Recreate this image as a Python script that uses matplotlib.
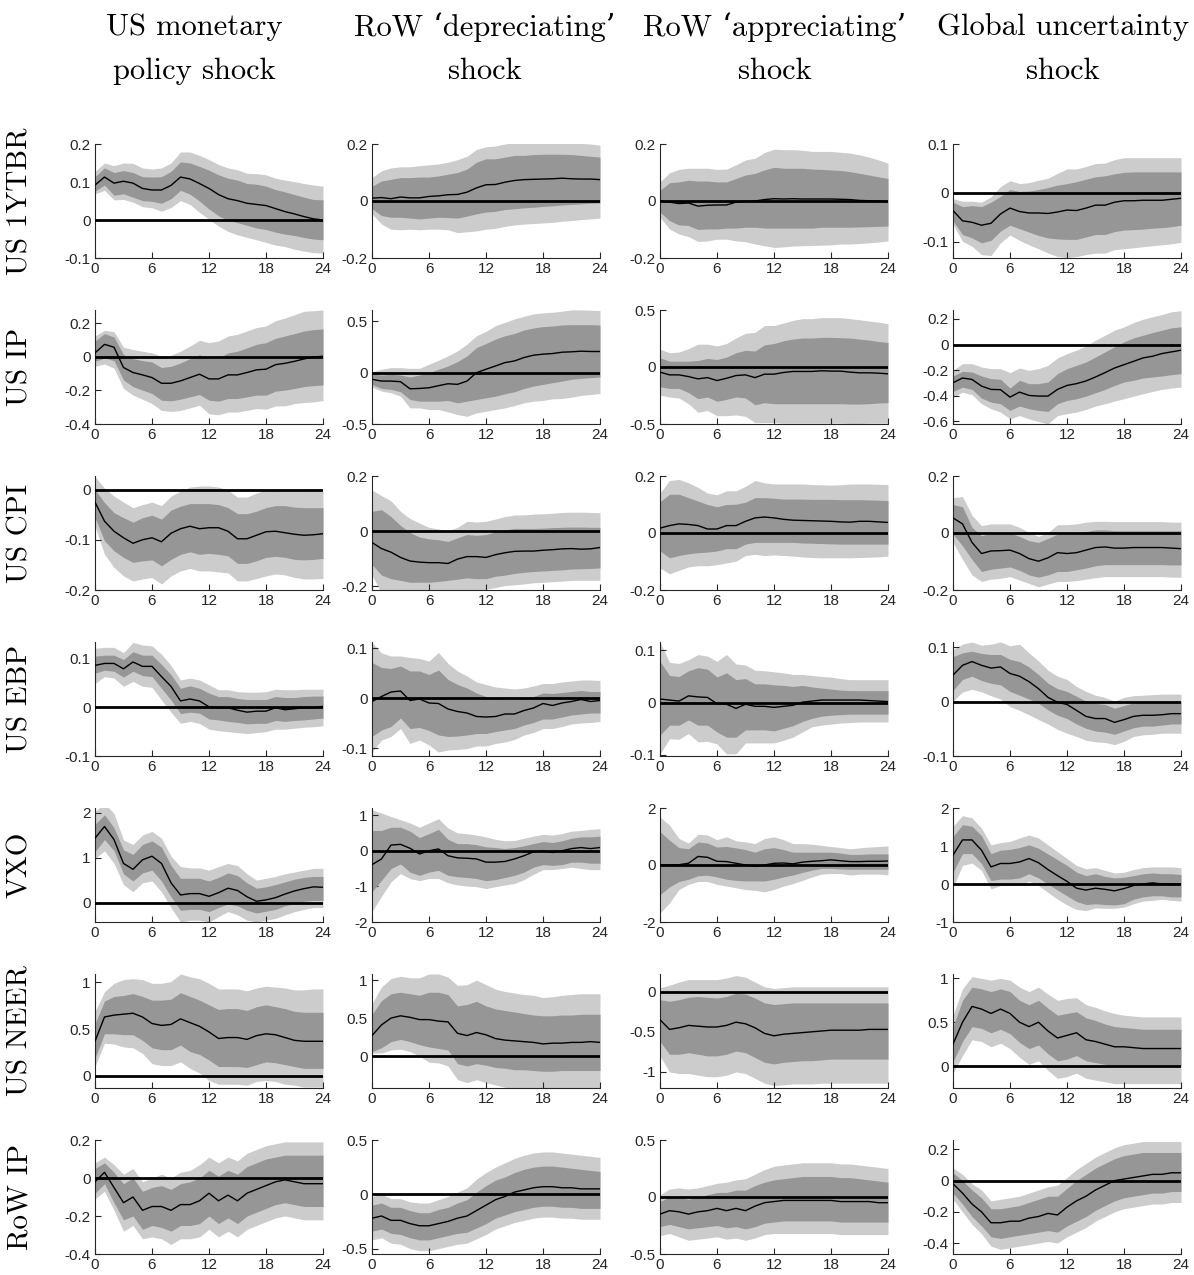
import numpy as np
import matplotlib
matplotlib.use("Agg")
import matplotlib.pyplot as plt
from matplotlib.ticker import FixedLocator, FuncFormatter

horizons = list(range(25))
xticks = [0, 6, 12, 18, 24]

shock_titles = [("US monetary", "policy shock"),
                ("RoW \u2018depreciating\u2019", "shock"),
                ("RoW \u2018appreciating\u2019", "shock"),
                ("Global uncertainty", "shock")]
variable_names = ["US 1YTBR", "US IP", "US CPI", "US EBP", "VXO", "US NEER", "RoW IP"]

# ---------------- US 1YTBR ----------------
ytbr_mp_med = [0.092,0.113,0.097,0.102,0.097,0.083,0.079,0.079,0.091,0.113,0.108,0.096,0.083,0.067,0.056,0.051,0.044,0.041,0.038,0.030,0.022,0.016,0.009,0.003,0.000]
ytbr_mp_hi68 = [0.114,0.137,0.125,0.130,0.125,0.114,0.113,0.114,0.128,0.153,0.150,0.141,0.131,0.119,0.110,0.105,0.096,0.094,0.089,0.080,0.074,0.067,0.060,0.054,0.053]
ytbr_mp_hi90 = [0.128,0.150,0.143,0.150,0.149,0.137,0.134,0.137,0.150,0.179,0.179,0.170,0.159,0.146,0.137,0.132,0.123,0.122,0.119,0.110,0.105,0.101,0.096,0.092,0.089]
ytbr_mp_lo68 = [0.076,0.092,0.065,0.069,0.060,0.051,0.049,0.044,0.056,0.078,0.068,0.050,0.029,0.011,-0.001,-0.007,-0.014,-0.021,-0.025,-0.032,-0.037,-0.041,-0.046,-0.050,-0.052]
ytbr_mp_lo90 = [0.069,0.078,0.053,0.054,0.047,0.035,0.032,0.023,0.033,0.051,0.041,0.020,0.002,-0.016,-0.030,-0.039,-0.046,-0.052,-0.059,-0.066,-0.070,-0.077,-0.082,-0.086,-0.087]

ytbr_dep_med = [0.010,0.012,0.008,0.014,0.011,0.011,0.016,0.018,0.022,0.023,0.031,0.046,0.057,0.058,0.066,0.072,0.075,0.076,0.077,0.078,0.080,0.078,0.077,0.077,0.075]
ytbr_dep_hi68 = [0.052,0.070,0.076,0.082,0.082,0.084,0.084,0.088,0.094,0.100,0.112,0.136,0.148,0.148,0.154,0.160,0.160,0.163,0.164,0.164,0.164,0.163,0.160,0.157,0.154]
ytbr_dep_hi90 = [0.082,0.106,0.116,0.120,0.120,0.124,0.127,0.130,0.136,0.145,0.157,0.181,0.190,0.193,0.200,0.205,0.207,0.208,0.210,0.210,0.210,0.206,0.202,0.200,0.196]
ytbr_dep_lo68 = [-0.027,-0.051,-0.057,-0.057,-0.060,-0.063,-0.060,-0.057,-0.058,-0.060,-0.053,-0.045,-0.039,-0.036,-0.030,-0.027,-0.024,-0.022,-0.019,-0.017,-0.014,-0.012,-0.010,-0.008,-0.007]
ytbr_dep_lo90 = [-0.045,-0.081,-0.099,-0.101,-0.099,-0.101,-0.099,-0.099,-0.101,-0.111,-0.108,-0.105,-0.099,-0.096,-0.089,-0.084,-0.081,-0.079,-0.077,-0.075,-0.071,-0.069,-0.065,-0.063,-0.060]

ytbr_app_med = [0.000,-0.004,-0.009,-0.007,-0.018,-0.015,-0.014,-0.014,-0.004,-0.001,0.000,0.005,0.008,0.007,0.008,0.007,0.007,0.007,0.007,0.006,0.005,0.002,0.001,0.000,-0.002]
ytbr_app_hi68 = [0.038,0.064,0.067,0.073,0.070,0.070,0.067,0.067,0.079,0.091,0.097,0.109,0.118,0.115,0.115,0.115,0.112,0.111,0.109,0.107,0.103,0.097,0.091,0.085,0.079]
ytbr_app_hi90 = [0.067,0.099,0.111,0.115,0.115,0.115,0.111,0.112,0.127,0.144,0.150,0.170,0.182,0.180,0.180,0.178,0.174,0.174,0.174,0.171,0.168,0.162,0.154,0.144,0.133]
ytbr_app_lo68 = [-0.039,-0.069,-0.084,-0.086,-0.100,-0.098,-0.098,-0.095,-0.095,-0.092,-0.092,-0.095,-0.095,-0.095,-0.095,-0.095,-0.095,-0.092,-0.092,-0.092,-0.092,-0.091,-0.090,-0.089,-0.088]
ytbr_app_lo90 = [-0.057,-0.098,-0.116,-0.125,-0.142,-0.140,-0.134,-0.134,-0.140,-0.143,-0.151,-0.157,-0.163,-0.161,-0.158,-0.157,-0.156,-0.155,-0.154,-0.151,-0.151,-0.149,-0.147,-0.144,-0.140]

ytbr_unc_med = [-0.036,-0.057,-0.060,-0.066,-0.062,-0.043,-0.031,-0.038,-0.041,-0.041,-0.042,-0.039,-0.035,-0.036,-0.031,-0.025,-0.025,-0.019,-0.016,-0.016,-0.015,-0.015,-0.015,-0.013,-0.011]
ytbr_unc_hi68 = [-0.019,-0.028,-0.026,-0.028,-0.019,-0.007,0.007,0.003,0.004,0.007,0.011,0.016,0.019,0.023,0.028,0.033,0.035,0.039,0.042,0.043,0.043,0.043,0.043,0.043,0.043]
ytbr_unc_hi90 = [-0.012,-0.017,-0.017,-0.019,-0.008,0.013,0.025,0.019,0.021,0.026,0.030,0.040,0.049,0.049,0.054,0.060,0.061,0.068,0.072,0.072,0.072,0.072,0.072,0.072,0.072]
ytbr_unc_lo68 = [-0.057,-0.085,-0.092,-0.102,-0.097,-0.078,-0.066,-0.073,-0.080,-0.087,-0.092,-0.094,-0.095,-0.095,-0.090,-0.085,-0.085,-0.079,-0.076,-0.075,-0.074,-0.072,-0.071,-0.069,-0.066]
ytbr_unc_lo90 = [-0.064,-0.099,-0.109,-0.126,-0.128,-0.102,-0.086,-0.097,-0.106,-0.114,-0.123,-0.130,-0.132,-0.130,-0.126,-0.123,-0.123,-0.116,-0.114,-0.112,-0.110,-0.108,-0.106,-0.104,-0.101]

# ---------------- US IP ----------------
ip_mp_med = [0.024,0.075,0.058,-0.063,-0.093,-0.107,-0.123,-0.157,-0.157,-0.143,-0.123,-0.103,-0.131,-0.131,-0.107,-0.107,-0.093,-0.077,-0.073,-0.046,-0.038,-0.026,-0.012,0.000,0.004]
ip_mp_hi68 = [0.095,0.139,0.119,0.014,-0.010,-0.022,-0.030,-0.063,-0.056,-0.036,-0.010,0.014,-0.010,-0.006,0.024,0.034,0.054,0.075,0.085,0.111,0.125,0.139,0.155,0.163,0.167]
ip_mp_hi90 = [0.125,0.159,0.151,0.058,0.044,0.034,0.024,0.004,0.010,0.034,0.065,0.099,0.085,0.095,0.125,0.135,0.155,0.175,0.185,0.216,0.232,0.252,0.272,0.276,0.280]
ip_mp_lo68 = [-0.026,-0.006,-0.022,-0.137,-0.177,-0.198,-0.218,-0.258,-0.262,-0.252,-0.238,-0.224,-0.258,-0.264,-0.248,-0.248,-0.238,-0.228,-0.228,-0.204,-0.198,-0.188,-0.177,-0.171,-0.167]
ip_mp_lo90 = [-0.056,-0.042,-0.067,-0.188,-0.228,-0.252,-0.278,-0.319,-0.325,-0.319,-0.304,-0.288,-0.339,-0.345,-0.329,-0.329,-0.319,-0.308,-0.312,-0.292,-0.292,-0.278,-0.272,-0.268,-0.260]

ip_dep_med = [-0.065,-0.082,-0.082,-0.088,-0.157,-0.154,-0.147,-0.127,-0.108,-0.114,-0.082,0.000,0.033,0.065,0.098,0.114,0.147,0.170,0.180,0.186,0.199,0.203,0.209,0.206,0.206]
ip_dep_hi68 = [-0.010,-0.023,-0.016,-0.023,-0.042,-0.023,0.000,0.033,0.065,0.108,0.163,0.245,0.284,0.327,0.359,0.382,0.415,0.435,0.448,0.454,0.464,0.467,0.467,0.467,0.464]
ip_dep_hi90 = [0.010,0.033,0.049,0.049,0.042,0.042,0.082,0.121,0.163,0.212,0.278,0.359,0.402,0.458,0.490,0.523,0.549,0.572,0.582,0.588,0.598,0.611,0.611,0.608,0.605]
ip_dep_lo68 = [-0.114,-0.154,-0.163,-0.186,-0.261,-0.278,-0.278,-0.278,-0.271,-0.294,-0.278,-0.261,-0.245,-0.229,-0.206,-0.186,-0.154,-0.131,-0.114,-0.098,-0.082,-0.065,-0.056,-0.049,-0.042]
ip_dep_lo90 = [-0.141,-0.180,-0.196,-0.229,-0.343,-0.343,-0.359,-0.359,-0.382,-0.408,-0.425,-0.392,-0.376,-0.359,-0.343,-0.320,-0.294,-0.278,-0.271,-0.255,-0.252,-0.239,-0.222,-0.212,-0.203]

ip_app_med = [-0.045,-0.069,-0.069,-0.084,-0.104,-0.093,-0.119,-0.099,-0.075,-0.069,-0.093,-0.063,-0.063,-0.048,-0.039,-0.039,-0.039,-0.033,-0.036,-0.036,-0.045,-0.051,-0.051,-0.054,-0.060]
ip_app_hi68 = [0.081,0.051,0.051,0.051,0.057,0.075,0.066,0.087,0.125,0.146,0.140,0.194,0.206,0.230,0.245,0.254,0.254,0.260,0.260,0.257,0.254,0.245,0.236,0.224,0.215]
ip_app_hi90 = [0.155,0.125,0.131,0.161,0.200,0.200,0.185,0.206,0.254,0.296,0.304,0.364,0.364,0.385,0.409,0.424,0.424,0.433,0.433,0.433,0.424,0.415,0.403,0.394,0.379]
ip_app_lo68 = [-0.173,-0.188,-0.188,-0.224,-0.278,-0.263,-0.301,-0.284,-0.263,-0.272,-0.331,-0.313,-0.322,-0.322,-0.322,-0.322,-0.322,-0.322,-0.322,-0.322,-0.325,-0.325,-0.322,-0.316,-0.313]
ip_app_lo90 = [-0.248,-0.263,-0.272,-0.322,-0.397,-0.382,-0.427,-0.427,-0.421,-0.433,-0.487,-0.487,-0.487,-0.493,-0.493,-0.493,-0.493,-0.493,-0.493,-0.493,-0.496,-0.496,-0.493,-0.493,-0.493]

ip_unc_med = [-0.298,-0.261,-0.272,-0.324,-0.350,-0.352,-0.410,-0.371,-0.397,-0.402,-0.402,-0.350,-0.319,-0.305,-0.284,-0.253,-0.219,-0.183,-0.157,-0.131,-0.104,-0.091,-0.070,-0.057,-0.044]
ip_unc_hi68 = [-0.245,-0.209,-0.214,-0.245,-0.266,-0.271,-0.339,-0.279,-0.305,-0.305,-0.292,-0.227,-0.188,-0.162,-0.136,-0.097,-0.057,-0.018,0.021,0.052,0.073,0.094,0.112,0.131,0.138]
ip_unc_hi90 = [-0.201,-0.149,-0.149,-0.175,-0.188,-0.188,-0.219,-0.183,-0.201,-0.188,-0.162,-0.104,-0.070,-0.044,-0.010,0.034,0.073,0.112,0.138,0.172,0.198,0.217,0.235,0.256,0.264]
ip_unc_lo68 = [-0.366,-0.332,-0.350,-0.418,-0.449,-0.462,-0.514,-0.480,-0.501,-0.514,-0.522,-0.462,-0.436,-0.423,-0.402,-0.376,-0.350,-0.319,-0.292,-0.279,-0.261,-0.253,-0.245,-0.235,-0.227]
ip_unc_lo90 = [-0.410,-0.371,-0.392,-0.462,-0.501,-0.527,-0.580,-0.554,-0.580,-0.600,-0.619,-0.554,-0.540,-0.527,-0.506,-0.480,-0.462,-0.441,-0.423,-0.402,-0.384,-0.366,-0.350,-0.339,-0.332]

# ---------------- US CPI ----------------
cpi_mp_med = [-0.025,-0.063,-0.083,-0.096,-0.107,-0.100,-0.096,-0.104,-0.087,-0.078,-0.073,-0.078,-0.076,-0.076,-0.083,-0.098,-0.098,-0.091,-0.084,-0.083,-0.086,-0.089,-0.091,-0.090,-0.088]
cpi_mp_hi68 = [0.000,-0.026,-0.046,-0.056,-0.065,-0.056,-0.051,-0.059,-0.041,-0.033,-0.028,-0.028,-0.028,-0.030,-0.036,-0.048,-0.048,-0.043,-0.036,-0.032,-0.032,-0.035,-0.036,-0.036,-0.036]
cpi_mp_hi90 = [0.026,0.003,-0.013,-0.025,-0.036,-0.030,-0.025,-0.032,-0.013,-0.003,0.005,0.007,0.007,0.005,-0.001,-0.015,-0.015,-0.007,-0.001,0.001,0.000,-0.001,-0.003,-0.003,-0.003]
cpi_mp_lo68 = [-0.056,-0.102,-0.122,-0.135,-0.145,-0.142,-0.140,-0.152,-0.139,-0.129,-0.124,-0.129,-0.127,-0.129,-0.132,-0.147,-0.147,-0.142,-0.135,-0.133,-0.135,-0.139,-0.140,-0.139,-0.137]
cpi_mp_lo90 = [-0.073,-0.129,-0.155,-0.172,-0.182,-0.178,-0.175,-0.188,-0.172,-0.162,-0.157,-0.162,-0.162,-0.164,-0.166,-0.182,-0.182,-0.177,-0.172,-0.168,-0.170,-0.175,-0.178,-0.178,-0.177]

cpi_dep_med = [-0.041,-0.063,-0.076,-0.095,-0.108,-0.112,-0.114,-0.114,-0.117,-0.101,-0.092,-0.092,-0.095,-0.085,-0.078,-0.073,-0.072,-0.072,-0.069,-0.067,-0.064,-0.063,-0.065,-0.064,-0.059]
cpi_dep_hi68 = [0.072,0.078,0.053,0.021,-0.005,-0.021,-0.028,-0.031,-0.037,-0.024,-0.012,-0.015,-0.012,-0.003,0.005,0.010,0.010,0.010,0.011,0.013,0.014,0.015,0.015,0.014,0.014]
cpi_dep_hi90 = [0.149,0.129,0.110,0.072,0.046,0.029,0.014,0.008,0.001,0.014,0.036,0.033,0.036,0.044,0.053,0.059,0.059,0.062,0.063,0.065,0.068,0.069,0.069,0.068,0.067]
cpi_dep_lo68 = [-0.121,-0.159,-0.172,-0.178,-0.185,-0.185,-0.185,-0.182,-0.178,-0.174,-0.169,-0.172,-0.172,-0.163,-0.159,-0.153,-0.149,-0.146,-0.144,-0.142,-0.140,-0.137,-0.136,-0.135,-0.133]
cpi_dep_lo90 = [-0.159,-0.225,-0.240,-0.245,-0.250,-0.250,-0.250,-0.248,-0.245,-0.240,-0.235,-0.228,-0.210,-0.204,-0.197,-0.194,-0.191,-0.187,-0.185,-0.183,-0.181,-0.178,-0.178,-0.178,-0.178]

cpi_app_med = [0.017,0.026,0.032,0.030,0.026,0.014,0.014,0.026,0.026,0.041,0.053,0.056,0.053,0.048,0.045,0.044,0.043,0.042,0.041,0.039,0.038,0.041,0.041,0.039,0.037]
cpi_app_hi68 = [0.110,0.136,0.136,0.124,0.112,0.100,0.092,0.100,0.101,0.108,0.124,0.124,0.122,0.119,0.119,0.119,0.118,0.118,0.118,0.117,0.117,0.117,0.116,0.115,0.114]
cpi_app_hi90 = [0.140,0.184,0.188,0.176,0.160,0.140,0.134,0.148,0.148,0.164,0.184,0.176,0.172,0.172,0.172,0.172,0.170,0.169,0.168,0.169,0.172,0.172,0.172,0.171,0.170]
cpi_app_lo68 = [-0.063,-0.087,-0.079,-0.073,-0.069,-0.067,-0.063,-0.055,-0.055,-0.039,-0.033,-0.033,-0.033,-0.033,-0.033,-0.035,-0.036,-0.037,-0.038,-0.039,-0.039,-0.039,-0.039,-0.039,-0.039]
cpi_app_lo90 = [-0.123,-0.143,-0.131,-0.119,-0.115,-0.115,-0.111,-0.105,-0.099,-0.079,-0.075,-0.079,-0.077,-0.079,-0.081,-0.084,-0.086,-0.087,-0.087,-0.087,-0.087,-0.086,-0.085,-0.084,-0.081]

cpi_unc_med = [0.053,0.032,-0.033,-0.072,-0.063,-0.062,-0.060,-0.072,-0.090,-0.099,-0.087,-0.069,-0.072,-0.069,-0.060,-0.051,-0.049,-0.053,-0.053,-0.051,-0.051,-0.051,-0.051,-0.053,-0.055]
cpi_unc_hi68 = [0.100,0.092,0.020,-0.010,0.000,0.000,0.000,-0.012,-0.027,-0.033,-0.019,-0.004,-0.004,0.000,0.005,0.011,0.011,0.008,0.008,0.008,0.008,0.008,0.008,0.008,0.008]
cpi_unc_hi90 = [0.124,0.128,0.062,0.026,0.032,0.032,0.032,0.020,0.002,-0.012,0.002,0.029,0.029,0.032,0.038,0.041,0.041,0.040,0.040,0.040,0.040,0.040,0.040,0.038,0.038]
cpi_unc_lo68 = [-0.004,-0.045,-0.093,-0.135,-0.127,-0.123,-0.119,-0.131,-0.147,-0.155,-0.147,-0.135,-0.135,-0.129,-0.123,-0.115,-0.111,-0.111,-0.111,-0.111,-0.111,-0.111,-0.111,-0.112,-0.112]
cpi_unc_lo90 = [-0.033,-0.093,-0.147,-0.170,-0.162,-0.159,-0.153,-0.165,-0.177,-0.189,-0.179,-0.170,-0.170,-0.167,-0.162,-0.157,-0.153,-0.153,-0.153,-0.153,-0.153,-0.153,-0.153,-0.155,-0.155]

# ---------------- US EBP ----------------
ebp_mp_med = [0.086,0.090,0.090,0.079,0.093,0.084,0.084,0.063,0.043,0.013,0.017,0.013,0.001,-0.001,-0.001,-0.006,-0.010,-0.008,-0.008,-0.001,-0.005,-0.003,-0.001,-0.001,0.002]
ebp_mp_hi68 = [0.105,0.107,0.107,0.098,0.114,0.107,0.107,0.088,0.067,0.039,0.044,0.039,0.029,0.022,0.022,0.018,0.016,0.016,0.016,0.022,0.020,0.020,0.022,0.023,0.023]
ebp_mp_hi90 = [0.121,0.123,0.123,0.112,0.133,0.128,0.126,0.109,0.086,0.056,0.060,0.056,0.046,0.036,0.036,0.032,0.031,0.031,0.032,0.037,0.036,0.036,0.037,0.037,0.037]
ebp_mp_lo68 = [0.070,0.076,0.074,0.062,0.074,0.065,0.063,0.039,0.015,-0.013,-0.010,-0.012,-0.024,-0.026,-0.029,-0.031,-0.034,-0.033,-0.033,-0.027,-0.029,-0.027,-0.026,-0.024,-0.022]
ebp_mp_lo90 = [0.049,0.063,0.060,0.043,0.053,0.043,0.041,0.015,-0.010,-0.033,-0.029,-0.033,-0.045,-0.048,-0.050,-0.052,-0.054,-0.052,-0.050,-0.045,-0.045,-0.043,-0.041,-0.040,-0.038]

ebp_dep_med = [-0.007,0.003,0.012,0.014,-0.005,-0.002,-0.010,-0.011,-0.022,-0.027,-0.030,-0.037,-0.038,-0.037,-0.032,-0.032,-0.025,-0.020,-0.011,-0.015,-0.010,-0.007,-0.003,-0.007,-0.005]
ebp_dep_hi68 = [0.071,0.061,0.059,0.064,0.054,0.054,0.047,0.056,0.037,0.027,0.020,0.010,0.003,0.000,-0.003,-0.003,0.000,0.003,0.010,0.009,0.011,0.013,0.015,0.013,0.013]
ebp_dep_hi90 = [0.111,0.090,0.084,0.084,0.081,0.079,0.074,0.091,0.069,0.054,0.044,0.032,0.027,0.022,0.020,0.018,0.020,0.024,0.029,0.029,0.032,0.034,0.036,0.036,0.035]
ebp_dep_lo68 = [-0.077,-0.064,-0.057,-0.040,-0.061,-0.059,-0.065,-0.074,-0.077,-0.076,-0.074,-0.071,-0.071,-0.067,-0.064,-0.061,-0.054,-0.049,-0.042,-0.042,-0.038,-0.034,-0.032,-0.030,-0.030]
ebp_dep_lo90 = [-0.108,-0.084,-0.077,-0.061,-0.091,-0.084,-0.094,-0.108,-0.104,-0.103,-0.101,-0.096,-0.096,-0.091,-0.088,-0.083,-0.074,-0.069,-0.061,-0.061,-0.057,-0.052,-0.050,-0.049,-0.047]

ebp_app_med = [0.007,0.005,0.003,0.013,0.011,0.010,-0.002,-0.003,-0.011,-0.003,-0.007,-0.007,-0.009,-0.007,-0.005,0.001,0.003,0.005,0.005,0.005,0.005,0.005,0.004,0.003,0.002]
ebp_app_hi68 = [0.079,0.052,0.050,0.061,0.067,0.064,0.049,0.057,0.044,0.046,0.036,0.036,0.034,0.033,0.031,0.033,0.030,0.028,0.026,0.024,0.023,0.023,0.023,0.023,0.023]
ebp_app_hi90 = [0.116,0.077,0.075,0.082,0.092,0.089,0.079,0.092,0.074,0.072,0.062,0.061,0.059,0.057,0.054,0.054,0.052,0.050,0.049,0.046,0.044,0.044,0.044,0.044,0.044]
ebp_app_lo68 = [-0.062,-0.043,-0.043,-0.033,-0.043,-0.043,-0.056,-0.066,-0.066,-0.052,-0.052,-0.052,-0.054,-0.049,-0.044,-0.036,-0.030,-0.026,-0.024,-0.023,-0.022,-0.022,-0.022,-0.022,-0.022]
ebp_app_lo90 = [-0.098,-0.069,-0.070,-0.059,-0.075,-0.074,-0.079,-0.098,-0.098,-0.077,-0.077,-0.077,-0.077,-0.072,-0.066,-0.056,-0.046,-0.043,-0.041,-0.039,-0.038,-0.037,-0.037,-0.037,-0.037]

ebp_unc_med = [0.049,0.067,0.074,0.067,0.062,0.064,0.052,0.047,0.037,0.024,0.008,-0.001,-0.005,-0.016,-0.027,-0.031,-0.031,-0.038,-0.033,-0.027,-0.025,-0.025,-0.024,-0.022,-0.022]
ebp_unc_hi68 = [0.083,0.090,0.093,0.089,0.087,0.087,0.078,0.074,0.064,0.050,0.034,0.024,0.019,0.010,0.001,-0.003,-0.005,-0.012,-0.007,-0.002,0.000,0.000,0.000,0.001,0.001]
ebp_unc_hi90 = [0.096,0.106,0.110,0.104,0.106,0.110,0.103,0.106,0.090,0.075,0.058,0.047,0.041,0.028,0.019,0.012,0.008,0.001,0.008,0.011,0.012,0.013,0.014,0.014,0.014]
ebp_unc_lo68 = [0.021,0.041,0.047,0.039,0.034,0.031,0.019,0.012,0.005,-0.003,-0.015,-0.025,-0.031,-0.041,-0.049,-0.054,-0.056,-0.060,-0.054,-0.048,-0.045,-0.045,-0.043,-0.041,-0.041]
ebp_unc_lo90 = [0.001,0.018,0.023,0.018,0.011,0.005,-0.009,-0.016,-0.024,-0.033,-0.041,-0.051,-0.058,-0.064,-0.071,-0.074,-0.075,-0.079,-0.073,-0.064,-0.061,-0.060,-0.058,-0.058,-0.058]

# ---------------- VXO ----------------
vxo_mp_med = [1.43,1.69,1.40,0.87,0.74,0.95,1.03,0.87,0.44,0.17,0.20,0.20,0.14,0.22,0.32,0.27,0.13,0.03,0.06,0.11,0.19,0.26,0.31,0.35,0.34]
vxo_mp_hi68 = [1.74,1.95,1.66,1.17,1.07,1.29,1.37,1.23,0.83,0.54,0.54,0.54,0.48,0.56,0.66,0.60,0.44,0.32,0.35,0.40,0.46,0.52,0.56,0.58,0.58]
vxo_mp_hi90 = [2.03,2.20,1.98,1.39,1.29,1.50,1.58,1.43,1.03,0.80,0.77,0.77,0.72,0.80,0.87,0.82,0.64,0.50,0.54,0.58,0.64,0.68,0.72,0.76,0.76]
vxo_mp_lo68 = [1.13,1.40,1.15,0.64,0.48,0.66,0.72,0.48,0.13,-0.17,-0.15,-0.15,-0.20,-0.11,-0.03,-0.07,-0.17,-0.23,-0.19,-0.15,-0.07,-0.02,0.03,0.05,0.05]
vxo_mp_lo90 = [0.98,1.15,0.87,0.40,0.24,0.44,0.48,0.24,-0.11,-0.43,-0.39,-0.39,-0.43,-0.31,-0.20,-0.27,-0.39,-0.43,-0.39,-0.35,-0.27,-0.20,-0.15,-0.11,-0.11]

vxo_dep_med = [-0.39,-0.23,0.16,0.18,0.07,-0.09,0.00,0.05,-0.14,-0.20,-0.21,-0.23,-0.32,-0.32,-0.30,-0.23,-0.14,-0.03,0.00,-0.05,0.00,0.06,0.09,0.06,0.09]
vxo_dep_hi68 = [0.57,0.57,0.66,0.66,0.55,0.37,0.48,0.60,0.32,0.20,0.20,0.17,0.11,0.09,0.06,0.09,0.14,0.20,0.26,0.23,0.28,0.35,0.39,0.39,0.41]
vxo_dep_hi90 = [1.15,1.06,0.96,0.87,0.78,0.66,0.78,0.90,0.64,0.50,0.48,0.44,0.39,0.32,0.28,0.29,0.35,0.41,0.46,0.44,0.48,0.55,0.57,0.60,0.62]
vxo_dep_lo68 = [-1.15,-0.83,-0.50,-0.37,-0.60,-0.69,-0.60,-0.55,-0.69,-0.73,-0.75,-0.78,-0.84,-0.81,-0.75,-0.69,-0.60,-0.46,-0.39,-0.41,-0.39,-0.32,-0.32,-0.35,-0.35]
vxo_dep_lo90 = [-1.70,-1.28,-0.87,-0.64,-0.78,-0.84,-0.78,-0.78,-0.90,-0.96,-0.99,-1.01,-1.06,-1.01,-0.96,-0.92,-0.81,-0.66,-0.53,-0.53,-0.50,-0.46,-0.50,-0.53,-0.53]

vxo_app_med = [0.00,0.00,0.01,0.06,0.30,0.27,0.13,0.12,0.06,0.00,-0.05,0.00,0.06,0.07,0.04,0.10,0.13,0.15,0.18,0.15,0.12,0.12,0.13,0.13,0.14]
vxo_app_hi68 = [1.17,0.87,0.61,0.57,0.81,0.77,0.63,0.65,0.60,0.54,0.45,0.57,0.61,0.54,0.45,0.45,0.45,0.45,0.45,0.42,0.37,0.37,0.39,0.39,0.39]
vxo_app_hi90 = [1.68,1.40,0.93,0.77,1.08,1.05,0.89,0.99,0.85,0.81,0.75,0.93,0.99,0.89,0.75,0.75,0.73,0.69,0.65,0.61,0.57,0.60,0.63,0.65,0.67]
vxo_app_lo68 = [-1.04,-0.77,-0.58,-0.50,-0.38,-0.36,-0.42,-0.50,-0.54,-0.56,-0.56,-0.56,-0.50,-0.42,-0.35,-0.26,-0.18,-0.12,-0.12,-0.14,-0.15,-0.15,-0.15,-0.15,-0.15]
vxo_app_lo90 = [-1.69,-1.33,-0.86,-0.68,-0.58,-0.58,-0.68,-0.74,-0.80,-0.86,-0.89,-0.94,-0.86,-0.74,-0.65,-0.54,-0.42,-0.32,-0.30,-0.30,-0.35,-0.32,-0.32,-0.32,-0.35]

vxo_unc_med = [0.76,1.16,1.16,0.89,0.45,0.54,0.54,0.58,0.67,0.56,0.38,0.22,0.07,-0.11,-0.16,-0.11,-0.14,-0.18,-0.12,-0.04,0.00,0.03,0.00,0.00,0.00]
vxo_unc_hi68 = [1.25,1.56,1.52,1.27,0.80,0.89,0.91,0.96,1.03,0.94,0.79,0.64,0.49,0.31,0.22,0.27,0.20,0.16,0.18,0.22,0.27,0.29,0.27,0.27,0.25]
vxo_unc_hi90 = [1.52,1.80,1.74,1.47,1.03,1.09,1.12,1.21,1.29,1.21,1.03,0.85,0.67,0.49,0.40,0.43,0.36,0.29,0.31,0.38,0.43,0.45,0.45,0.45,0.43]
vxo_unc_lo68 = [0.31,0.80,0.80,0.54,0.09,0.13,0.13,0.16,0.27,0.16,0.00,-0.16,-0.31,-0.46,-0.54,-0.52,-0.54,-0.55,-0.52,-0.40,-0.34,-0.31,-0.31,-0.34,-0.34]
vxo_unc_lo90 = [-0.09,0.49,0.55,0.36,-0.13,-0.04,-0.04,-0.03,0.07,-0.04,-0.22,-0.40,-0.55,-0.67,-0.70,-0.63,-0.64,-0.64,-0.61,-0.52,-0.45,-0.43,-0.40,-0.43,-0.45]

# ---------------- US NEER ----------------
neer_mp_med = [0.37,0.63,0.65,0.66,0.67,0.63,0.56,0.54,0.55,0.61,0.57,0.53,0.47,0.40,0.41,0.41,0.39,0.43,0.45,0.44,0.41,0.38,0.37,0.37,0.37]
neer_mp_hi68 = [0.56,0.80,0.85,0.86,0.88,0.85,0.81,0.81,0.82,0.89,0.85,0.81,0.76,0.71,0.72,0.72,0.70,0.74,0.76,0.74,0.72,0.69,0.68,0.68,0.68]
neer_mp_hi90 = [0.69,0.90,0.99,1.03,1.04,1.03,0.99,0.99,1.01,1.09,1.06,1.04,0.99,0.93,0.93,0.93,0.91,0.94,0.96,0.95,0.94,0.92,0.92,0.93,0.93]
neer_mp_lo68 = [0.19,0.45,0.45,0.44,0.44,0.38,0.30,0.28,0.28,0.33,0.26,0.23,0.17,0.10,0.10,0.10,0.09,0.12,0.15,0.14,0.12,0.10,0.08,0.08,0.08]
neer_mp_lo90 = [0.10,0.35,0.34,0.31,0.30,0.24,0.13,0.11,0.11,0.15,0.08,0.03,-0.05,-0.09,-0.09,-0.09,-0.10,-0.06,-0.05,-0.06,-0.09,-0.10,-0.12,-0.12,-0.12]

neer_dep_med = [0.27,0.41,0.50,0.53,0.51,0.48,0.48,0.46,0.45,0.30,0.27,0.31,0.28,0.23,0.21,0.20,0.19,0.18,0.16,0.17,0.17,0.18,0.18,0.19,0.18]
neer_dep_hi68 = [0.55,0.73,0.82,0.84,0.82,0.80,0.84,0.84,0.81,0.66,0.68,0.72,0.66,0.62,0.60,0.58,0.56,0.54,0.53,0.53,0.54,0.54,0.55,0.55,0.55]
neer_dep_hi90 = [0.69,0.91,1.02,1.05,1.03,1.03,1.08,1.08,1.04,0.93,0.94,1.00,0.94,0.88,0.85,0.83,0.81,0.80,0.77,0.78,0.80,0.81,0.82,0.82,0.82]
neer_dep_lo68 = [0.06,0.11,0.19,0.22,0.19,0.15,0.12,0.10,0.08,-0.10,-0.13,-0.10,-0.12,-0.15,-0.16,-0.18,-0.18,-0.19,-0.20,-0.20,-0.19,-0.19,-0.19,-0.19,-0.19]
neer_dep_lo90 = [0.04,0.04,0.08,0.09,0.06,0.00,-0.08,-0.09,-0.13,-0.31,-0.35,-0.31,-0.35,-0.38,-0.41,-0.44,-0.45,-0.46,-0.46,-0.46,-0.46,-0.46,-0.46,-0.46,-0.46]

neer_app_med = [-0.35,-0.47,-0.45,-0.42,-0.43,-0.44,-0.44,-0.42,-0.38,-0.40,-0.45,-0.52,-0.55,-0.53,-0.52,-0.51,-0.50,-0.49,-0.48,-0.48,-0.48,-0.48,-0.47,-0.47,-0.47]
neer_app_hi68 = [-0.10,-0.12,-0.10,-0.07,-0.06,-0.07,-0.08,-0.06,-0.02,-0.03,-0.08,-0.14,-0.16,-0.15,-0.14,-0.14,-0.14,-0.14,-0.14,-0.14,-0.14,-0.14,-0.14,-0.14,-0.14]
neer_app_hi90 = [0.05,0.08,0.12,0.15,0.15,0.15,0.15,0.17,0.20,0.18,0.12,0.06,0.04,0.05,0.06,0.06,0.06,0.06,0.06,0.06,0.06,0.06,0.06,0.06,0.06]
neer_app_lo68 = [-0.62,-0.78,-0.78,-0.76,-0.78,-0.80,-0.80,-0.78,-0.74,-0.76,-0.82,-0.88,-0.90,-0.88,-0.87,-0.86,-0.86,-0.85,-0.84,-0.84,-0.84,-0.84,-0.84,-0.84,-0.84]
neer_app_lo90 = [-0.80,-1.00,-1.02,-1.02,-1.04,-1.06,-1.06,-1.04,-1.00,-1.02,-1.08,-1.14,-1.17,-1.16,-1.15,-1.15,-1.15,-1.14,-1.14,-1.14,-1.14,-1.14,-1.14,-1.14,-1.14]

neer_unc_med = [0.25,0.50,0.68,0.65,0.60,0.65,0.60,0.50,0.45,0.50,0.40,0.32,0.35,0.38,0.30,0.28,0.25,0.22,0.22,0.21,0.20,0.20,0.20,0.20,0.20]
neer_unc_hi68 = [0.45,0.75,0.90,0.88,0.85,0.88,0.85,0.75,0.70,0.75,0.66,0.58,0.60,0.62,0.55,0.52,0.48,0.45,0.44,0.43,0.42,0.42,0.42,0.42,0.42]
neer_unc_hi90 = [0.58,0.88,1.02,1.00,0.98,1.00,0.98,0.90,0.85,0.90,0.82,0.75,0.77,0.78,0.70,0.67,0.63,0.60,0.58,0.57,0.56,0.56,0.56,0.56,0.56]
neer_unc_lo68 = [0.05,0.28,0.45,0.43,0.38,0.42,0.37,0.27,0.20,0.24,0.14,0.06,0.08,0.12,0.06,0.04,0.02,0.00,0.00,0.00,0.00,0.00,0.00,0.00,0.00]
neer_unc_lo90 = [-0.08,0.12,0.30,0.28,0.22,0.26,0.20,0.10,0.02,0.06,-0.05,-0.14,-0.12,-0.08,-0.14,-0.16,-0.18,-0.20,-0.20,-0.20,-0.20,-0.20,-0.20,-0.20,-0.20]

# ---------------- RoW IP ----------------
rowip_mp_med = [-0.02,0.03,-0.05,-0.13,-0.10,-0.17,-0.15,-0.15,-0.17,-0.14,-0.14,-0.12,-0.08,-0.12,-0.09,-0.12,-0.08,-0.06,-0.04,-0.02,-0.01,-0.02,-0.03,-0.03,-0.03]
rowip_mp_hi68 = [0.05,0.08,0.03,-0.03,0.00,-0.07,-0.05,-0.04,-0.06,-0.03,-0.02,0.00,0.04,0.01,0.04,0.02,0.06,0.08,0.10,0.11,0.12,0.12,0.12,0.12,0.12]
rowip_mp_hi90 = [0.08,0.11,0.07,0.02,0.05,-0.02,0.00,0.02,0.00,0.03,0.04,0.07,0.11,0.08,0.11,0.09,0.13,0.15,0.17,0.18,0.19,0.19,0.19,0.19,0.19]
rowip_mp_lo68 = [-0.08,-0.03,-0.13,-0.22,-0.20,-0.27,-0.25,-0.26,-0.28,-0.25,-0.25,-0.24,-0.20,-0.24,-0.21,-0.24,-0.20,-0.18,-0.16,-0.14,-0.13,-0.14,-0.15,-0.15,-0.15]
rowip_mp_lo90 = [-0.11,-0.07,-0.17,-0.28,-0.25,-0.32,-0.31,-0.32,-0.35,-0.32,-0.32,-0.31,-0.27,-0.31,-0.28,-0.31,-0.27,-0.25,-0.23,-0.21,-0.20,-0.21,-0.22,-0.22,-0.22]

rowip_dep_med = [-0.22,-0.20,-0.24,-0.24,-0.27,-0.29,-0.29,-0.27,-0.25,-0.22,-0.20,-0.15,-0.10,-0.05,-0.02,0.02,0.04,0.06,0.07,0.07,0.06,0.06,0.05,0.05,0.05]
rowip_dep_hi68 = [-0.10,-0.08,-0.12,-0.12,-0.15,-0.17,-0.17,-0.14,-0.12,-0.08,-0.05,0.02,0.08,0.13,0.16,0.20,0.23,0.25,0.26,0.26,0.25,0.24,0.23,0.22,0.21]
rowip_dep_hi90 = [-0.02,0.00,-0.04,-0.04,-0.07,-0.08,-0.08,-0.05,-0.02,0.02,0.06,0.14,0.20,0.25,0.29,0.33,0.36,0.38,0.39,0.39,0.38,0.37,0.36,0.35,0.34]
rowip_dep_lo68 = [-0.34,-0.32,-0.36,-0.37,-0.40,-0.42,-0.42,-0.40,-0.38,-0.36,-0.35,-0.31,-0.27,-0.22,-0.19,-0.16,-0.14,-0.12,-0.11,-0.11,-0.12,-0.12,-0.13,-0.13,-0.13]
rowip_dep_lo90 = [-0.42,-0.40,-0.45,-0.46,-0.50,-0.52,-0.52,-0.50,-0.48,-0.46,-0.45,-0.41,-0.37,-0.32,-0.29,-0.26,-0.24,-0.22,-0.21,-0.21,-0.22,-0.22,-0.23,-0.23,-0.23]

rowip_app_med = [-0.15,-0.12,-0.13,-0.15,-0.13,-0.12,-0.10,-0.12,-0.10,-0.12,-0.08,-0.05,-0.04,-0.03,-0.03,-0.03,-0.03,-0.03,-0.03,-0.04,-0.04,-0.04,-0.04,-0.05,-0.05]
rowip_app_hi68 = [-0.04,0.00,0.00,-0.02,0.00,0.02,0.04,0.04,0.06,0.06,0.10,0.13,0.15,0.16,0.17,0.18,0.18,0.18,0.18,0.17,0.17,0.16,0.15,0.14,0.13]
rowip_app_hi90 = [0.02,0.07,0.08,0.07,0.08,0.10,0.12,0.13,0.15,0.16,0.20,0.24,0.27,0.28,0.29,0.30,0.30,0.30,0.30,0.29,0.29,0.28,0.27,0.26,0.25]
rowip_app_lo68 = [-0.26,-0.24,-0.26,-0.28,-0.27,-0.26,-0.25,-0.27,-0.26,-0.28,-0.26,-0.23,-0.22,-0.21,-0.21,-0.21,-0.21,-0.21,-0.21,-0.22,-0.22,-0.22,-0.22,-0.22,-0.22]
rowip_app_lo90 = [-0.34,-0.32,-0.35,-0.38,-0.37,-0.36,-0.35,-0.37,-0.36,-0.38,-0.36,-0.33,-0.32,-0.32,-0.32,-0.32,-0.32,-0.32,-0.32,-0.33,-0.33,-0.33,-0.33,-0.33,-0.33]

rowip_unc_med = [-0.02,-0.08,-0.15,-0.20,-0.27,-0.27,-0.26,-0.26,-0.24,-0.23,-0.21,-0.22,-0.17,-0.13,-0.10,-0.06,-0.03,0.00,0.01,0.02,0.03,0.04,0.04,0.05,0.05]
rowip_unc_hi68 = [0.05,0.00,-0.06,-0.11,-0.18,-0.18,-0.17,-0.16,-0.14,-0.12,-0.10,-0.10,-0.05,0.00,0.04,0.08,0.11,0.14,0.16,0.17,0.18,0.18,0.18,0.18,0.18]
rowip_unc_hi90 = [0.08,0.04,-0.02,-0.06,-0.13,-0.12,-0.11,-0.10,-0.08,-0.06,-0.04,-0.03,0.02,0.07,0.11,0.15,0.18,0.21,0.23,0.24,0.25,0.25,0.25,0.25,0.25]
rowip_unc_lo68 = [-0.08,-0.15,-0.23,-0.29,-0.36,-0.37,-0.36,-0.35,-0.34,-0.33,-0.32,-0.33,-0.29,-0.26,-0.23,-0.19,-0.16,-0.13,-0.11,-0.10,-0.09,-0.08,-0.08,-0.07,-0.07]
rowip_unc_lo90 = [-0.12,-0.20,-0.28,-0.34,-0.42,-0.44,-0.43,-0.42,-0.41,-0.40,-0.39,-0.40,-0.36,-0.33,-0.30,-0.26,-0.23,-0.20,-0.18,-0.17,-0.16,-0.15,-0.15,-0.14,-0.14]

# y-axis limits and ticks of each panel (rows: variables, columns: shocks)
ylims = [
    [(-0.1, 0.2), (-0.2, 0.2), (-0.2, 0.2), (-0.133, 0.1)],
    [(-0.4, 0.28), (-0.5, 0.61), (-0.5, 0.5), (-0.62, 0.27)],
    [(-0.2, 0.027), (-0.213, 0.2), (-0.2, 0.2), (-0.2, 0.2)],
    [(-0.1, 0.134), (-0.116, 0.112), (-0.102, 0.116), (-0.1, 0.11)],
    [(-0.43, 2.1), (-2.0, 1.2), (-2.0, 2.0), (-1.0, 2.0)],
    [(-0.13, 1.09), (-0.42, 1.08), (-1.2, 0.22), (-0.25, 1.05)],
    [(-0.4, 0.2), (-0.55, 0.5), (-0.5, 0.5), (-0.47, 0.26)],
]
yticks = [
    [[-0.1, 0, 0.1, 0.2], [-0.2, 0, 0.2], [-0.2, 0, 0.2], [-0.1, 0, 0.1]],
    [[-0.4, -0.2, 0, 0.2], [-0.5, 0, 0.5], [-0.5, 0, 0.5], [-0.6, -0.4, -0.2, 0, 0.2]],
    [[-0.2, -0.1, 0], [-0.2, 0, 0.2], [-0.2, 0, 0.2], [-0.2, 0, 0.2]],
    [[-0.1, 0, 0.1], [-0.1, 0, 0.1], [-0.1, 0, 0.1], [-0.1, 0, 0.1]],
    [[0, 1, 2], [-2, -1, 0, 1], [-2, 0, 2], [-1, 0, 1, 2]],
    [[0, 0.5, 1], [0, 0.5, 1], [-1, -0.5, 0], [0, 0.5, 1]],
    [[-0.4, -0.2, 0, 0.2], [-0.5, 0, 0.5], [-0.5, 0, 0.5], [-0.4, -0.2, 0, 0.2]],
]

g = globals()
var_keys = ["ytbr", "ip", "cpi", "ebp", "vxo", "neer", "rowip"]
shock_keys = ["mp", "dep", "app", "unc"]

# ---------------- layout (pixels) ----------------
W, H = 1194, 1275
col_left = [95, 372, 660, 953]
col_w = 228
row_top0, row_step, row_h = 144, 166, 114
title_x = [194, 485, 775, 1063]

LIGHT = "#cccccc"
DARK = "#969696"
AXC = "#262626"
tick_family = ["Liberation Sans", "DejaVu Sans"]
tick_size = 11
serif = ["cmr10", "DejaVu Serif"]

fig = plt.figure(figsize=(W / 100, H / 100), dpi=100)

fmt = FuncFormatter(lambda v, p: ("%g" % v).replace("\u2212", "-"))

for i, vk in enumerate(var_keys):
    for j, sk in enumerate(shock_keys):
        pre = f"{vk}_{sk}_"
        med, lo68, hi68 = g[pre + "med"], g[pre + "lo68"], g[pre + "hi68"]
        lo90, hi90 = g[pre + "lo90"], g[pre + "hi90"]
        top = row_top0 + i * row_step
        ax = fig.add_axes([col_left[j] / W, 1 - (top + row_h) / H, col_w / W, row_h / H])
        ax.fill_between(horizons, lo90, hi90, color=LIGHT, lw=0, zorder=1)
        ax.fill_between(horizons, lo68, hi68, color=DARK, lw=0, zorder=2)
        ax.axhline(0, color="black", lw=2.0, zorder=3)
        ax.plot(horizons, med, color="black", lw=1.0, zorder=4)
        ax.set_xlim(0, 24)
        ax.set_ylim(*ylims[i][j])
        ax.xaxis.set_major_locator(FixedLocator(xticks))
        ax.yaxis.set_major_locator(FixedLocator(yticks[i][j]))
        ax.yaxis.set_major_formatter(fmt)
        for s in ("top", "right"):
            ax.spines[s].set_visible(False)
        for s in ("left", "bottom"):
            ax.spines[s].set_color(AXC)
            ax.spines[s].set_linewidth(0.8)
        ax.tick_params(direction="in", length=4, width=0.8, colors=AXC, pad=3)
        for lab in ax.get_xticklabels() + ax.get_yticklabels():
            lab.set_fontfamily(tick_family)
            lab.set_fontsize(tick_size)
            lab.set_color(AXC)
        if j == 0:
            yc = 1 - (top + row_h / 2) / H
            fig.text(20 / W, yc, variable_names[i], rotation=90, ha="center", va="center",
                     fontsize=21, family=serif)

for j, (l1, l2) in enumerate(shock_titles):
    fig.text(title_x[j] / W, 1 - 27 / H, l1, ha="center", va="center", fontsize=22, family=serif)
    fig.text(title_x[j] / W, 1 - 71 / H, l2, ha="center", va="center", fontsize=22, family=serif)

fig.savefig("out.png", dpi=100)
